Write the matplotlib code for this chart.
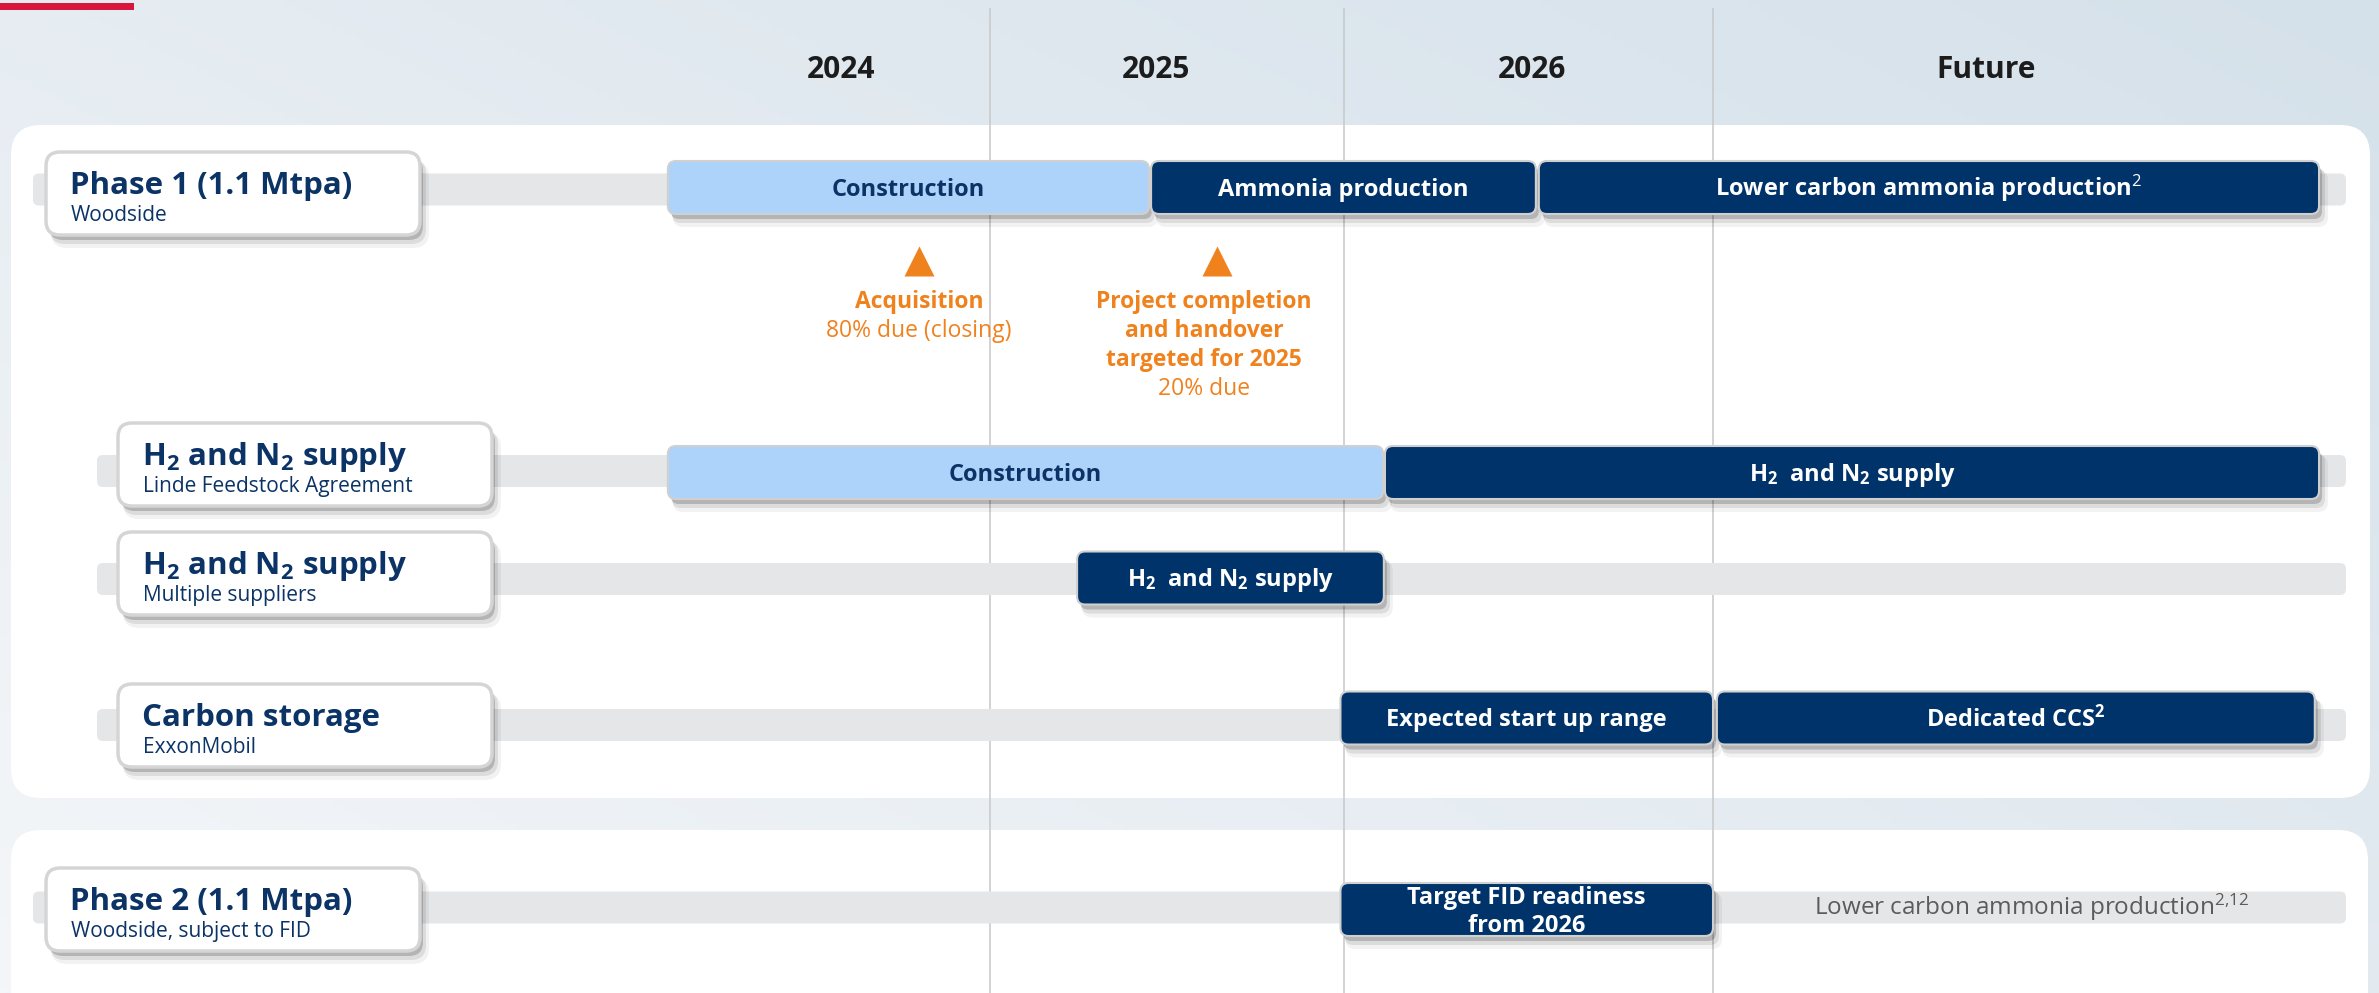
"""Ammonia project timeline (Gantt style) chart"""
import numpy as np
import matplotlib
matplotlib.use("Agg")
import matplotlib.pyplot as plt
from matplotlib.patches import FancyBboxPatch, Rectangle
from matplotlib.transforms import Affine2D

plt.rcParams['font.family'] = ['Open Sans', 'DejaVu Sans']
plt.rcParams['mathtext.fontset'] = 'custom'
plt.rcParams['mathtext.rm'] = 'Open Sans'
plt.rcParams['mathtext.it'] = 'Open Sans:italic'
plt.rcParams['mathtext.bf'] = 'Open Sans:bold'

# timeline columns
years = ['2024', '2025', '2026', 'Future']
year_label_x = [2024.58, 2025.47, 2026.51, 2027.77]
year_edges = [2025, 2026, 2027]

# rows
row_titles = ['Phase 1 (1.1 Mtpa)', r'H$_\mathbf{2}$ and N$_\mathbf{2}$ supply',
              r'H$_\mathbf{2}$ and N$_\mathbf{2}$ supply', 'Carbon storage',
              'Phase 2 (1.1 Mtpa)']
row_notes = ['Woodside', 'Linde Feedstock Agreement', 'Multiple suppliers',
             'ExxonMobil', 'Woodside, subject to FID']

# bars
bar_row = [0, 0, 0, 1, 1, 2, 3, 3, 4]
bar_start = [2024.09, 2025.455, 2026.528, 2024.09, 2026.111, 2025.246, 2025.99, 2027.011, 2025.99]
bar_end = [2025.449, 2026.52, 2028.712, 2026.106, 2028.712, 2026.108, 2027.0, 2028.70, 2027.0]
bar_text = ['Construction', 'Ammonia production', 'Lower carbon ammonia production$^2$',
            'Construction', r'H$_\mathbf{2}$  and N$_\mathbf{2}$ supply',
            r'H$_\mathbf{2}$  and N$_\mathbf{2}$ supply', 'Expected start up range',
            r'Dedicated CCS$^\mathbf{2}$', 'Target FID readiness\nfrom 2026']
bar_build = [True, False, False, True, False, False, False, False, False]

# milestones
ms_x = [2024.80, 2025.64]
ms_text_x = [2024.80, 2025.605]
ms_title = [['Acquisition'], ['Project completion', 'and handover', 'targeted for 2025']]
ms_note = ['80% due (closing)', '20% due']

future_x = 2027.90
future_text = r'Lower carbon ammonia production$^{2,\!12}$'

NAVY = '#0b3366'
DARK = '#00336a'
LIGHT = '#add3fb'
TRACK = '#e5e6e8'
ORANGE = '#f0821e'
GRID = '#c8c8c8'

# layout (pixels)
W, H = 2379, 993
row_track_y = [189.5, 471, 579, 725, 907.5]
row_track_x0 = [33, 97, 97, 97, 33]
track_x1 = 2346
row_bar_y = [187.5, 472.5, 578, 718, 909.5]
row_box_top = [152, 423, 532, 684, 868]
row_box_x = [46, 118, 118, 118, 46]

fig = plt.figure(figsize=(W / 100, H / 100), dpi=100)

# soft background gradient
bg = fig.add_axes([0, 0, 1, 1])
gx = np.linspace(0, 1, 400)[None, :]
gy = np.linspace(0, 1, 170)[:, None]
t = np.clip(0.55 * gx + 0.45 * (1 - gy), 0, 1)
light = np.array([0.957, 0.965, 0.976])
blue = np.array([0.835, 0.882, 0.918])
bg.imshow(light + (blue - light) * t[..., None], aspect='auto')
bg.axis('off')

ax = fig.add_axes([0, 0, 1, 1])
ax.patch.set_visible(False)
knot_yr = [2018, 2024, 2025, 2026, 2027, 2028, 2034]
knot_px = [-1488, 636, 990, 1344, 1713, 2067, 4191]
fwd = lambda v: np.interp(v, knot_yr, knot_px)
inv = lambda p: np.interp(p, knot_px, knot_yr)
ax.set_xscale('function', functions=(fwd, inv))
ax.set_xlim(inv(0), inv(W))
ax.set_ylim(H, 0)
ax.axis('off')

PX = Affine2D().scale(1 / W, -1 / H).translate(0, 1) + fig.transFigure


def xpx(v):
    return ax.transData.transform((v, 0))[0]


def rbox(x, y, w, h, r, **kw):
    p = FancyBboxPatch((x, y), w, h, boxstyle=f'round,pad=0,rounding_size={r}',
                       transform=PX, **kw)
    ax.add_patch(p)
    return p


def drop_shadow(x, y, w, h, r):
    for dx, dy, grow, a in [(3, 5, 0, 0.18), (5, 8, 1, 0.09), (7, 11, 2, 0.05)]:
        rbox(x + dx - grow, y + dy - grow, w + 2 * grow, h + 2 * grow, r + grow,
             fc='black', ec='none', alpha=a, zorder=4)


ax.add_patch(Rectangle((0, 3), 134, 7, fc='#d8163b', ec='none', transform=PX, zorder=6))

# white panels
rbox(11, 125, 2359, 673, 30, fc='white', ec='none', zorder=1)
rbox(11, 830, 2357, 220, 30, fc='white', ec='none', zorder=1)

ax.vlines(year_edges, 8, H, colors=GRID, lw=1.1, zorder=2)
for x, s in zip(year_label_x, years):
    ax.text(x, 78, s, ha='center', va='baseline', fontsize=21.5, fontweight='bold',
            color='#1c1c1c', zorder=6)

for i in range(len(row_titles)):
    tx0 = row_track_x0[i]
    rbox(tx0, row_track_y[i] - 16, track_x1 - tx0, 32, 6, fc=TRACK, ec='none', zorder=3)
    bx, bt = row_box_x[i], row_box_top[i]
    drop_shadow(bx, bt, 374, 83, 14)
    rbox(bx, bt, 374, 83, 14, fc='white', ec='#d5d5d5', lw=2.5, zorder=5)
    ax.text(bx + 24, bt + 42, row_titles[i], transform=PX, fontsize=22.5, fontweight='bold',
            color=NAVY, va='baseline', zorder=6)
    ax.text(bx + 25, bt + 69, row_notes[i], transform=PX, fontsize=15, color=NAVY,
            va='baseline', zorder=6)

for r, s, e, lab, build in zip(bar_row, bar_start, bar_end, bar_text, bar_build):
    x0, x1 = xpx(s), xpx(e)
    yc = row_bar_y[r]
    drop_shadow(x0, yc - 26.5, x1 - x0, 53, 8)
    rbox(x0, yc - 26.5, x1 - x0, 53, 8, fc=LIGHT if build else DARK, ec='#d0d0d0',
         lw=1.5, zorder=5)
    lines = lab.split('\n')
    base = yc + 8.5 - 14 * (len(lines) - 1)
    for k, line in enumerate(lines):
        ax.text((x0 + x1) / 2, base + 28 * k, line, transform=PX, ha='center',
                va='baseline', fontsize=17, fontweight='bold',
                color=NAVY if build else 'white', zorder=6)

ax.plot(ms_x, [260.5] * len(ms_x), ls='none', marker='^', ms=21.6, color=ORANGE,
        mec='none', zorder=6)
for x, titles, note in zip(ms_text_x, ms_title, ms_note):
    for k, line in enumerate(titles):
        ax.text(x, 308 + 29 * k, line, ha='center', va='baseline', fontsize=16.5,
                fontweight='bold', color=ORANGE, zorder=6)
    ax.text(x, 308 + 29 * len(titles), note, ha='center', va='baseline', fontsize=16.5,
            color=ORANGE, zorder=6)

ax.text(future_x, 915, future_text, ha='center', va='baseline', fontsize=17.5,
        color='#5b5b5b', zorder=6)

fig.savefig('out.png', dpi=100)
